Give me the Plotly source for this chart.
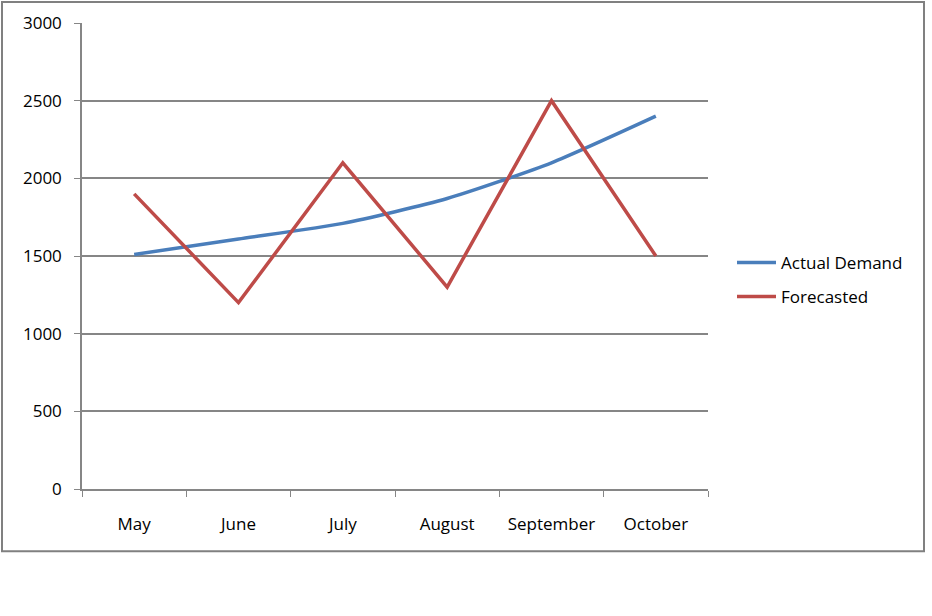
import plotly.graph_objects as go

months = ["May", "June", "July", "August", "September", "October"]
actual_demand = [1510, 1610, 1710, 1870, 2100, 2400]
forecasted = [1900, 1200, 2100, 1300, 2500, 1500]

FONT = "Open Sans"
GRID = "#868686"

fig = go.Figure()
fig.add_trace(
    go.Scatter(
        x=months,
        y=actual_demand,
        name="Actual Demand",
        mode="lines",
        line=dict(color="#4A7EBB", width=3.5, shape="spline", smoothing=0.6),
        legendgroup="a",
    )
)
fig.add_trace(
    go.Scatter(
        x=months,
        y=forecasted,
        name="Forecasted",
        mode="lines",
        line=dict(color="#BE4B48", width=3.5),
        legendgroup="f",
    )
)

# plot area in screen pixels, as measured on the picture
L, R, T, B = 82, 708, 22.5, 489.5
W, H = 932, 616
pw, ph = R - L, B - T

# outer chart border (Excel style frame)
fig.add_shape(
    type="rect",
    xref="paper",
    yref="paper",
    x0=(2 - L) / pw,
    x1=(924 - L) / pw,
    y0=(B - 552) / ph,
    y1=(B - 1.5) / ph,
    line=dict(color="#808080", width=2),
)

fig.update_layout(
    width=W,
    height=H,
    margin=dict(l=L, r=W - R, t=T, b=H - B, autoexpand=False),
    paper_bgcolor="white",
    plot_bgcolor="white",
    font=dict(family=FONT, size=17, color="#000000"),
    showlegend=True,
    legend=dict(
        x=(732 - L) / pw,
        y=(B - 280) / ph,
        xanchor="left",
        yanchor="middle",
        tracegroupgap=9,
        itemwidth=39,
        font=dict(family=FONT, size=17),
    ),
    xaxis=dict(
        type="category",
        range=[-0.5, 5.5],
        tickson="boundaries",
        ticks="outside",
        ticklen=6,
        tickcolor=GRID,
        showline=True,
        linecolor=GRID,
        linewidth=1.5,
        showgrid=False,
        ticklabelstandoff=19,
    ),
    yaxis=dict(
        range=[0, 3000],
        dtick=500,
        ticks="outside",
        ticklen=6,
        tickcolor=GRID,
        showline=True,
        linecolor=GRID,
        linewidth=1.5,
        gridcolor=GRID,
        gridwidth=1.5,
        zeroline=False,
        ticklabelstandoff=9,
    ),
)

# drop the default body margin so the figure sits at the page corner
fig.write_html(
    "out.html",
    config={"displayModeBar": False},
    post_script="document.body.style.margin = '0';",
)
